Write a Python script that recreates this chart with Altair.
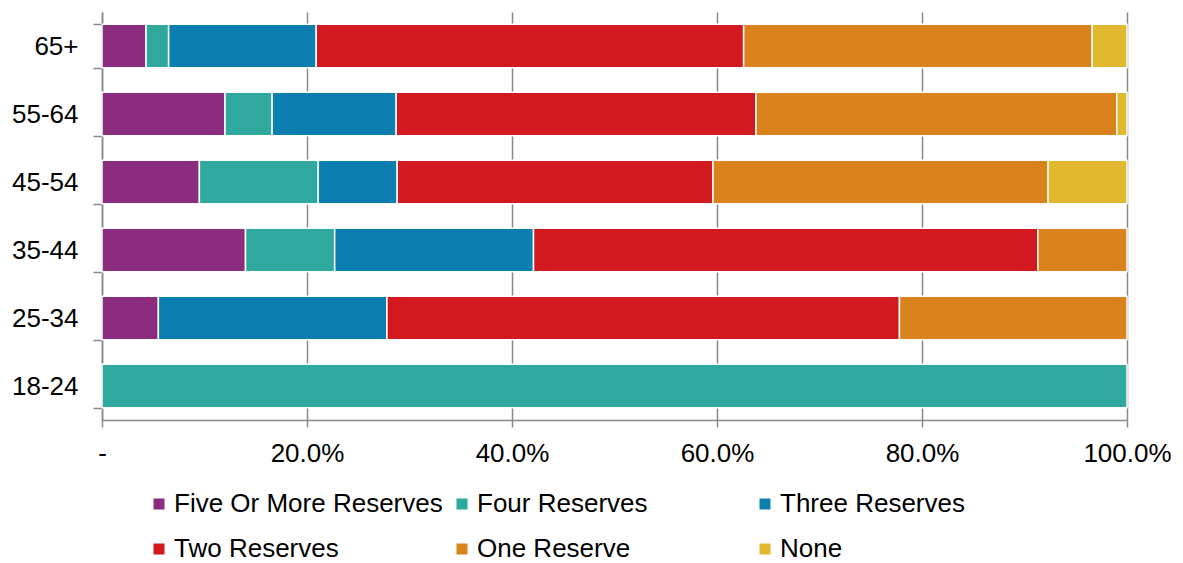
import altair as alt
import pandas as pd

ages = ["65+", "55-64", "45-54", "35-44", "25-34", "18-24"]
series = ["Five Or More Reserves", "Four Reserves", "Three Reserves",
          "Two Reserves", "One Reserve", "None"]
colors = ["#8B2C7E", "#2FA99D", "#0C7EAF", "#D2191F", "#DA821C", "#E1B82E"]

five_or_more = [4.3, 12.0, 9.5, 14.0, 5.5, 0.0]
four = [2.2, 4.6, 11.6, 8.7, 0.0, 100.0]
three = [14.4, 12.1, 7.7, 19.4, 22.3, 0.0]
two = [41.7, 35.1, 30.8, 49.2, 50.0, 0.0]
one = [34.0, 35.2, 32.7, 8.7, 22.2, 0.0]
none_ = [3.4, 1.0, 7.7, 0.0, 0.0, 0.0]

x_ticks = [0, 0.2, 0.4, 0.6, 0.8, 1.0]

rows = []
for si, (name, vals) in enumerate(zip(series, [five_or_more, four, three, two, one, none_])):
    for age, v in zip(ages, vals):
        if v > 0:
            rows.append({"age": age, "series": name, "idx": si, "value": v / 100.0})
df = pd.DataFrame(rows)

FONT = "Liberation Sans"
FS = 26
GRAY = "#898989"

chart = alt.Chart(df).mark_bar(stroke="white", strokeWidth=1.5).encode(
    y=alt.Y("age:N", sort=ages, title=None,
            scale=alt.Scale(paddingInner=0.36, paddingOuter=0.18),
            axis=alt.Axis(tickBand="extent", domainColor=GRAY, domainWidth=1.5,
                          tickColor=GRAY, tickWidth=1.5, tickSize=9,
                          labelFontSize=FS, labelFont=FONT, labelColor="black",
                          labelPadding=15, grid=False)),
    x=alt.X("value:Q", stack="zero", title=None,
            scale=alt.Scale(domain=[0, 1], nice=False),
            axis=alt.Axis(values=x_ticks,
                          labelExpr="datum.value == 0 ? '-' : format(datum.value, '.1%')",
                          domainColor=GRAY, domainWidth=1.5,
                          tickColor=GRAY, tickWidth=1.5, tickSize=7,
                          gridColor=GRAY, gridWidth=1.5, grid=True,
                          labelFontSize=FS, labelFont=FONT, labelColor="black",
                          labelPadding=13, labelFlush=False)),
    color=alt.Color("series:N", title=None,
                    scale=alt.Scale(domain=series, range=colors),
                    legend=alt.Legend(orient="none", legendX=44, legendY=479,
                                      direction="horizontal", columns=3,
                                      symbolType="square", symbolSize=121,
                                      symbolStrokeWidth=0, labelLimit=500,
                                      labelFontSize=FS, labelFont=FONT,
                                      labelColor="black", labelOffset=2,
                                      gridAlign="all", columnPadding=6,
                                      rowPadding=19)),
    order=alt.Order("idx:Q", sort="ascending"),
).properties(
    width=1025, height=408,
    autosize=alt.AutoSizeParams(type="none"),
    padding={"left": 94, "top": 4, "right": 48, "bottom": 143},
).configure_view(strokeWidth=0)

chart.save("out.html", embed_options={"renderer": "svg", "actions": False})
